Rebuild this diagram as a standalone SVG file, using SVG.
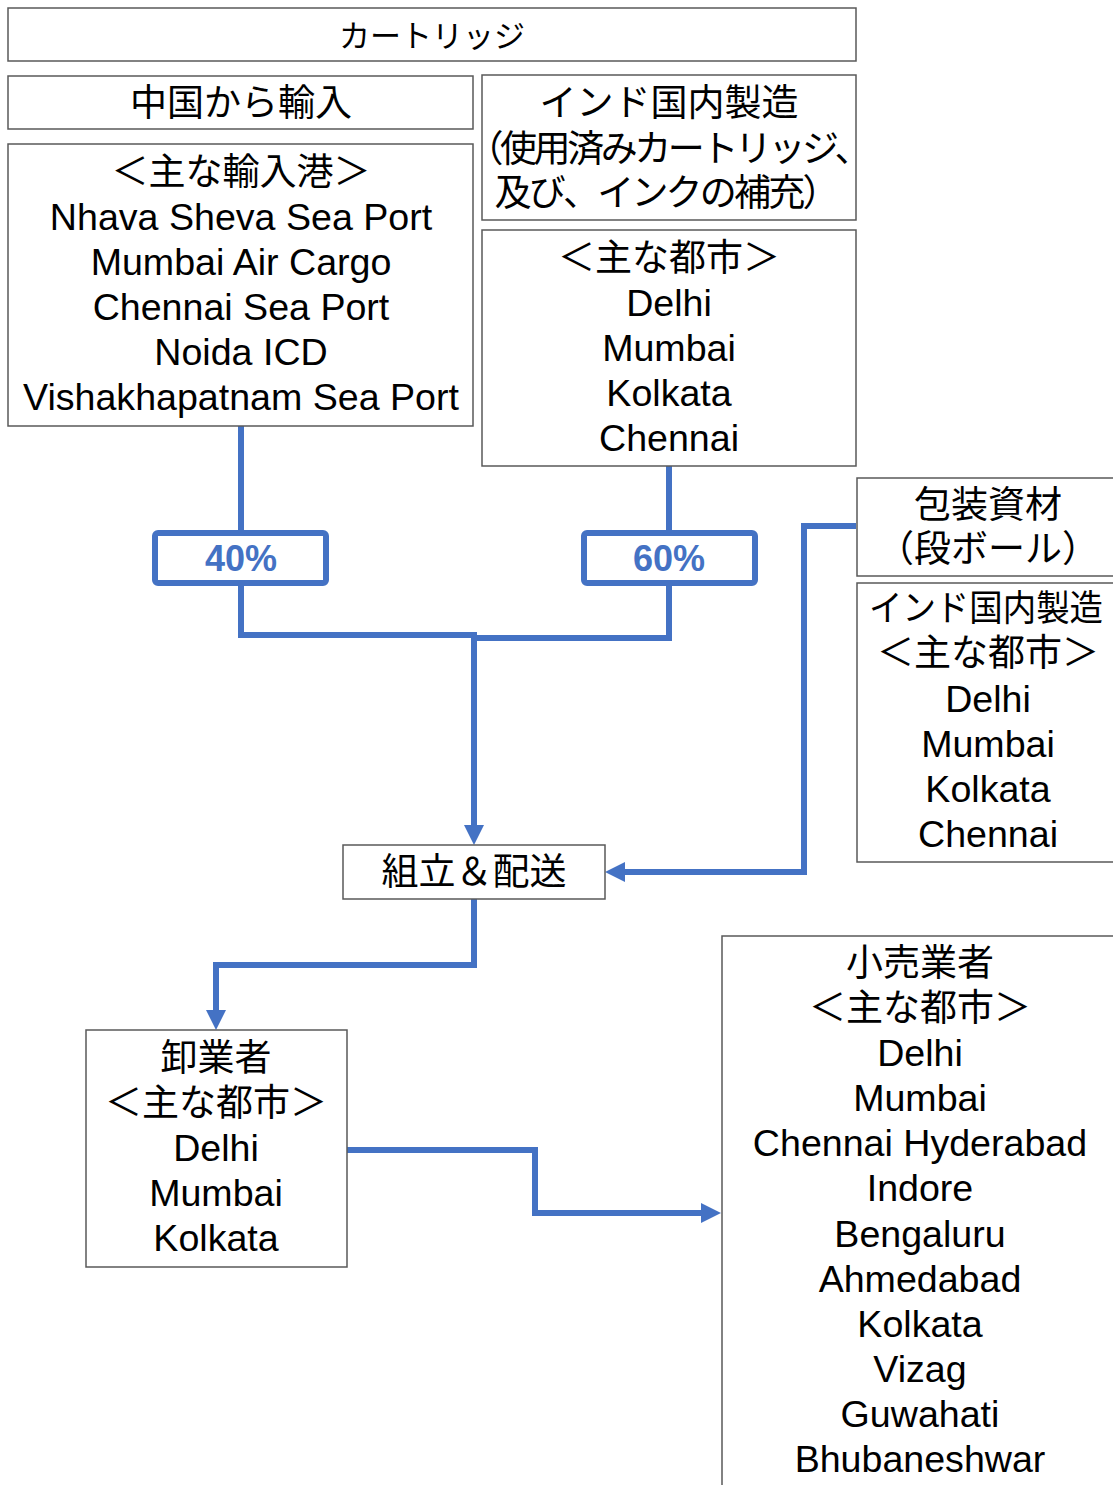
<svg xmlns="http://www.w3.org/2000/svg" width="1113" height="1485" viewBox="0 0 1113 1485">
<style>
.box{fill:#fff;stroke:#595959;stroke-width:1.5}
.pbox{fill:#fff;stroke:#4472C4;stroke-width:6}
text{font-family:"Liberation Sans","Noto Sans CJK JP",sans-serif;font-size:37.6px;fill:#000;text-anchor:middle}
.pct{font-weight:bold;fill:#4472C4;font-size:36px}
.con{fill:none;stroke:#4472C4;stroke-width:6}
</style>
<defs>
<marker id="arr" viewBox="0 0 20 20" refX="0" refY="10" markerWidth="20" markerHeight="20" markerUnits="userSpaceOnUse" orient="auto">
<path d="M0 0 L20 10 L0 20 z" fill="#4472C4"/>
</marker>
</defs>
<rect width="1113" height="1485" fill="#fff"/>
<g id="connectors">
<path class="con" d="M241 426 V533"/>
<path class="con" d="M669 466 V533"/>
<path class="con" d="M241 583 V635 H477"/>
<path class="con" d="M669 583 V638 H474"/>
<path class="con" d="M474 635 V825" marker-end="url(#arr)"/>
<path class="con" d="M856 526 H804 V872 H625" marker-end="url(#arr)"/>
<path class="con" d="M474 899 V965 H216 V1010" marker-end="url(#arr)"/>
<path class="con" d="M347 1150 H535 V1213 H701" marker-end="url(#arr)"/>
</g>
<g id="cartridge">
<rect class="box" x="8" y="8" width="848" height="53"/>
<text x="432" y="47" style="font-size:31px">カートリッジ</text>
</g>
<g id="import">
<rect class="box" x="8" y="76" width="465" height="53"/>
<text x="241" y="116" style="font-size:37px">中国から輸入</text>
</g>
<g id="ports">
<rect class="box" x="8" y="144" width="465" height="282"/>
<text x="241" y="185" style="font-size:37px">＜主な輸入港＞</text>
<text x="241" y="230">Nhava Sheva Sea Port</text>
<text x="241" y="275">Mumbai Air Cargo</text>
<text x="241" y="320">Chennai Sea Port</text>
<text x="241" y="365">Noida ICD</text>
<text x="241" y="410">Vishakhapatnam Sea Port</text>
</g>
<g id="domestic">
<rect class="box" x="482" y="75" width="374" height="145"/>
<text x="669" y="116" style="font-size:37px">インド国内製造</text>
<text x="669" y="162" textLength="405" lengthAdjust="spacing" style="font-size:37px">（使用済みカートリッジ、</text>
<text x="667" y="206" textLength="345" lengthAdjust="spacing" style="font-size:37px">及び、インクの補充）</text>
</g>
<g id="cities">
<rect class="box" x="482" y="230" width="374" height="236"/>
<text x="669" y="271" style="font-size:37px">＜主な都市＞</text>
<text x="669" y="316">Delhi</text>
<text x="669" y="361">Mumbai</text>
<text x="669" y="406">Kolkata</text>
<text x="669" y="451">Chennai</text>
</g>
<g id="p40">
<rect class="pbox" x="155" y="533" width="171" height="50" rx="3"/>
<text class="pct" x="241" y="571">40%</text>
</g>
<g id="p60">
<rect class="pbox" x="584" y="533" width="171" height="50" rx="3"/>
<text class="pct" x="669" y="571">60%</text>
</g>
<g id="packaging">
<rect class="box" x="857" y="478" width="270" height="98"/>
<text x="988" y="518" style="font-size:37px">包装資材</text>
<text x="988" y="562" style="font-size:37px">（段ボール）</text>
</g>
<g id="packaging-cities">
<rect class="box" x="857" y="583" width="270" height="279"/>
<text x="986" y="621" textLength="234" lengthAdjust="spacingAndGlyphs" style="font-size:36px">インド国内製造</text>
<text x="988" y="666" style="font-size:37px">＜主な都市＞</text>
<text x="988" y="712">Delhi</text>
<text x="988" y="757">Mumbai</text>
<text x="988" y="802">Kolkata</text>
<text x="988" y="847">Chennai</text>
</g>
<g id="assembly">
<rect class="box" x="343" y="845" width="262" height="54"/>
<text x="474" y="885" style="font-size:37px">組立＆配送</text>
</g>
<g id="wholesale">
<rect class="box" x="86" y="1030" width="261" height="237"/>
<text x="216" y="1071" style="font-size:37px">卸業者</text>
<text x="216" y="1116" style="font-size:37px">＜主な都市＞</text>
<text x="216" y="1161">Delhi</text>
<text x="216" y="1206">Mumbai</text>
<text x="216" y="1251">Kolkata</text>
</g>
<g id="retail">
<rect class="box" x="722" y="936" width="400" height="560"/>
<text x="920" y="976" style="font-size:37px">小売業者</text>
<text x="920" y="1021" style="font-size:37px">＜主な都市＞</text>
<text x="920" y="1066">Delhi</text>
<text x="920" y="1111">Mumbai</text>
<text x="920" y="1156">Chennai Hyderabad</text>
<text x="920" y="1201">Indore</text>
<text x="920" y="1247">Bengaluru</text>
<text x="920" y="1292">Ahmedabad</text>
<text x="920" y="1337">Kolkata</text>
<text x="920" y="1382">Vizag</text>
<text x="920" y="1427">Guwahati</text>
<text x="920" y="1472">Bhubaneshwar</text>
</g>
</svg>
